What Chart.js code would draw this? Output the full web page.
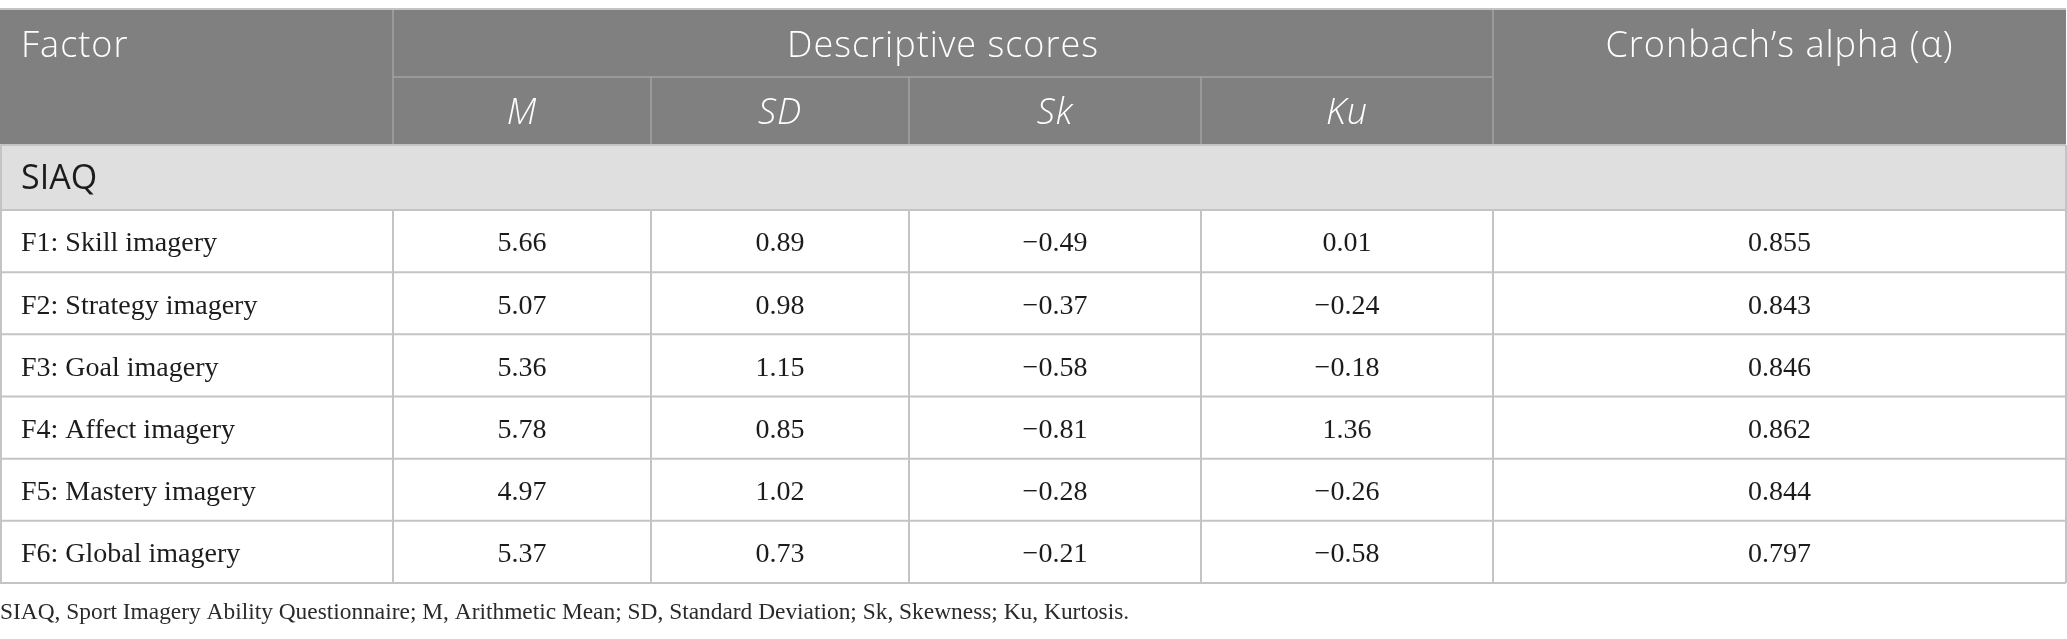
<!DOCTYPE html>
<html>
<head>
<meta charset="utf-8">
<script src="https://cdn.jsdelivr.net/npm/chart.js@4.4.1/dist/chart.umd.min.js"></script>
<style>
  html, body { margin: 0; padding: 0; background: #fff; }
  canvas { display: block; }
</style>
</head>
<body>
<canvas id="tbl" width="2067" height="639"></canvas>
<script>
// table content
const factors = ["F1: Skill imagery", "F2: Strategy imagery", "F3: Goal imagery", "F4: Affect imagery", "F5: Mastery imagery", "F6: Global imagery"];
const meanM = [5.66, 5.07, 5.36, 5.78, 4.97, 5.37];
const sdVals = [0.89, 0.98, 1.15, 0.85, 1.02, 0.73];
const skVals = [-0.49, -0.37, -0.58, -0.81, -0.28, -0.21];
const kuVals = [0.01, -0.24, -0.18, 1.36, -0.26, -0.58];
const alphaVals = [0.855, 0.843, 0.846, 0.862, 0.844, 0.797];
const subHeads = ["M", "SD", "Sk", "Ku"];
const groupName = "SIAQ";
const note = "SIAQ, Sport Imagery Ability Questionnaire; M, Arithmetic Mean; SD, Standard Deviation; Sk, Skewness; Ku, Kurtosis.";

// layout (px) - column edges and header rows
const colEdges = [0, 393, 651, 909, 1201, 1493, 2066];
const headTop = 9, headMid = 77, headBot = 145, groupBot = 210;

const HEAD_BG = '#7f807f';
const GROUP_BG = '#e0dfe0';
const LINE = '#c4c4c4';
const HEAD_LINE = '#a3a4a3';
const SANS = '"Open Sans", "Noto Sans", sans-serif';
const SERIF = '"Liberation Serif", "DejaVu Serif", serif';

function colCenter(i) { return (colEdges[i] + colEdges[i + 1]) / 2; }
function fmt(v, d) {
  const s = Math.abs(v).toFixed(d);
  return v < 0 ? '\u2212' + s : s;
}

const cols = [
  { vals: meanM, dec: 2 },
  { vals: sdVals, dec: 2 },
  { vals: skVals, dec: 2 },
  { vals: kuVals, dec: 2 },
  { vals: alphaVals, dec: 3 }
];

const datasets = cols.map((c, k) => ({
  label: k < 4 ? subHeads[k] : 'alpha',
  data: factors.map((f, i) => ({ x: colCenter(k + 1), y: f, v: c.vals[i] })),
  dec: c.dec,
  pointRadius: 0,
  pointHoverRadius: 0
}));

const tablePlugin = {
  id: 'tablePlugin',
  beforeDraw(chart) {
    const ctx = chart.ctx;
    const area = chart.chartArea;
    const right = colEdges[colEdges.length - 1];
    ctx.save();
    // header background
    ctx.fillStyle = HEAD_BG;
    ctx.fillRect(0, headTop, right, headBot - headTop);
    // group row
    ctx.fillStyle = GROUP_BG;
    ctx.fillRect(0, headBot, right, groupBot - headBot);

    // header inner lines
    ctx.strokeStyle = HEAD_LINE;
    ctx.lineWidth = 1.5;
    ctx.beginPath();
    ctx.moveTo(colEdges[1], headMid); ctx.lineTo(colEdges[5], headMid);
    [1, 5].forEach(i => { ctx.moveTo(colEdges[i], headTop); ctx.lineTo(colEdges[i], headBot); });
    [2, 3, 4].forEach(i => { ctx.moveTo(colEdges[i], headMid); ctx.lineTo(colEdges[i], headBot); });
    ctx.stroke();

    // table grid for body
    const y = chart.scales.y;
    const band = (area.bottom - area.top) / factors.length;
    ctx.strokeStyle = LINE;
    ctx.lineWidth = 2;
    ctx.beginPath();
    ctx.moveTo(0, headTop); ctx.lineTo(right, headTop);
    ctx.moveTo(0, headBot); ctx.lineTo(right, headBot);
    ctx.moveTo(0, groupBot); ctx.lineTo(right, groupBot);
    factors.forEach((f, i) => {
      const yb = y.getPixelForValue(i) + band / 2;
      ctx.moveTo(0, yb); ctx.lineTo(right, yb);
    });
    colEdges.forEach((x, i) => {
      const xx = i === 0 ? 1 : x;
      ctx.moveTo(xx, groupBot); ctx.lineTo(xx, area.bottom);
    });
    ctx.moveTo(1, headBot); ctx.lineTo(1, groupBot);
    ctx.moveTo(right, headBot); ctx.lineTo(right, groupBot);
    ctx.stroke();

    // header text
    ctx.fillStyle = '#ffffff';
    ctx.textBaseline = 'middle';
    ctx.letterSpacing = '1px';
    ctx.font = '300 36px ' + SANS;
    ctx.textAlign = 'left';
    const r1 = (headTop + headMid) / 2 + 4;
    ctx.fillText('Factor', 21, r1);
    ctx.textAlign = 'center';
    ctx.fillText('Descriptive scores', (colEdges[1] + colEdges[5]) / 2, r1);
    ctx.fillText('Cronbach\u2019s alpha (\u03b1)', colCenter(5), r1);
    ctx.font = 'italic 300 36px ' + SANS;
    subHeads.forEach((s, i) => ctx.fillText(s, colCenter(i + 1), (headMid + headBot) / 2 + 3));

    // group label
    ctx.fillStyle = '#1c1c1c';
    ctx.textAlign = 'left';
    ctx.letterSpacing = '0px';
    ctx.font = '34px ' + SANS;
    ctx.fillText(groupName, 21, (headBot + groupBot) / 2 + 2);
    ctx.restore();
  },
  afterDatasetsDraw(chart) {
    const ctx = chart.ctx;
    const y = chart.scales.y;
    ctx.save();
    ctx.fillStyle = '#1c1c1c';
    ctx.textBaseline = 'middle';
    ctx.font = '28px ' + SERIF;
    ctx.textAlign = 'left';
    factors.forEach((f, i) => ctx.fillText(f, 21, y.getPixelForValue(i) + 3));
    ctx.textAlign = 'center';
    chart.data.datasets.forEach((ds, k) => {
      chart.getDatasetMeta(k).data.forEach((pt, i) => {
        ctx.fillText(fmt(ds.data[i].v, ds.dec), pt.x, pt.y + 3);
      });
    });
    // footnote
    ctx.textAlign = 'left';
    ctx.fillStyle = '#2a2a2a';
    ctx.font = '23.4px ' + SERIF;
    ctx.fillText(note, 0, chart.chartArea.bottom + 30);
    ctx.restore();
  }
};

new Chart(document.getElementById('tbl'), {
  type: 'scatter',
  data: { labels: factors, datasets: datasets },
  options: {
    responsive: false,
    animation: false,
    devicePixelRatio: 1,
    layout: { padding: { top: groupBot, bottom: 639 - 583, left: 0, right: 1 } },
    plugins: { legend: { display: false }, tooltip: { enabled: false } },
    events: [],
    scales: {
      x: { type: 'linear', min: 0, max: colEdges[colEdges.length - 1], display: false },
      y: { type: 'category', labels: factors, offset: true, display: false }
    }
  },
  plugins: [tablePlugin]
});
</script>
</body>
</html>
